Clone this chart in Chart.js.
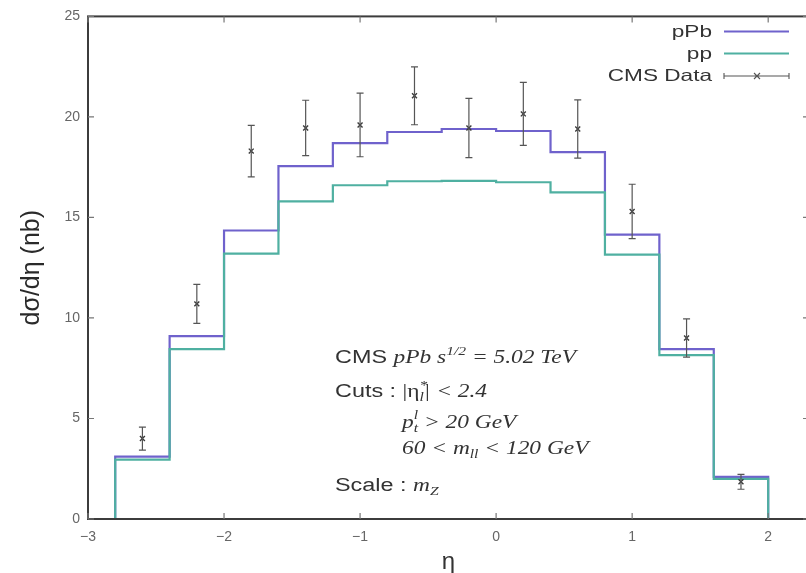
<!DOCTYPE html>
<html><head><meta charset="utf-8">
<script src="https://cdn.jsdelivr.net/npm/chart.js@4/dist/chart.umd.min.js"></script>
<style>
html,body{margin:0;padding:0;background:#fff;overflow:hidden;width:806px;height:573px}
#wrap{width:830px;height:573px;position:relative}
canvas{display:block}
</style></head>
<body><div id="wrap"><canvas id="c" width="830" height="573"></canvas></div>
<script>
// ---- data ----
const binEdges   = [-2.8,-2.4,-2.0,-1.6,-1.2,-0.8,-0.4,0.0,0.4,0.8,1.2,1.6,2.0];
const pPbValues  = [3.1,9.1,14.35,17.55,18.7,19.25,19.4,19.3,18.25,14.15,8.45,2.1];
const ppValues   = [2.95,8.45,13.2,15.8,16.6,16.8,16.82,16.75,16.25,13.15,8.15,2.0];
const dataEta    = [-2.6,-2.2,-1.8,-1.4,-1.0,-0.6,-0.2,0.2,0.6,1.0,1.4,1.8];
const dataValues = [4.0,10.7,18.3,19.45,19.6,21.05,19.45,20.15,19.4,15.3,9.0,1.85];
const dataErrors = [0.57,0.97,1.28,1.38,1.58,1.44,1.47,1.57,1.45,1.35,0.95,0.37];
const xTicks      = [-3,-2,-1,0,1,2];
const xTickLabels = ['−3','−2','−1','0','1','2'];
const yTicks      = [0,5,10,15,20,25];
const seriesNames = ['pPb','pp','CMS Data'];
const xTitle = 'η';
const yTitle = 'dσ/dη (nb)';

const colPPb = '#6f62cc';
const colPP  = '#4fb0a1';
const colData = '#3a3a3a';
const textCol = '#333';

function stepPoints(edges, vals){
  const pts=[{x:edges[0],y:0}];
  vals.forEach((v,i)=>pts.push({x:edges[i],y:v}));
  pts.push({x:edges[edges.length-1],y:vals[vals.length-1]});
  pts.push({x:edges[edges.length-1],y:0});
  return pts;
}

function drawRich(ctx,x,y,segs,sx){
  ctx.save(); ctx.translate(x,y); ctx.scale(sx,1);
  ctx.textBaseline='alphabetic'; ctx.textAlign='left';
  let cx=0;
  for(const s of segs){
    ctx.font=s.f;
    ctx.fillText(s.t,cx,s.dy||0);
    if(!s.stack) cx+=ctx.measureText(s.t).width;
  }
  ctx.restore();
}

const SANS='18px "Liberation Sans", Arial, sans-serif';
const SI='italic 18px "Liberation Serif", "Times New Roman", serif';
const SR='18px "Liberation Serif", "Times New Roman", serif';
const SM='italic 12px "Liberation Serif", "Times New Roman", serif';
const annotation = [
  {x:335,y:363,segs:[{t:'CMS ',f:SANS},{t:'pPb s',f:SI},{t:'1/2',f:SM,dy:-8},{t:' = 5.02 TeV',f:SI}]},
  {x:335,y:397,segs:[{t:'Cuts : ',f:SANS},{t:'|η',f:SR},{t:'*',f:SM,dy:-8,stack:true},{t:'l',f:SM,dy:4},{t:'| < 2.4',f:SI}]},
  {x:402,y:428,segs:[{t:'p',f:SI},{t:'l',f:SM,dy:-9,stack:true},{t:'t',f:SM,dy:4},{t:' > 20 GeV',f:SI}]},
  {x:402,y:454,segs:[{t:'60 < m',f:SI},{t:'ll',f:SM,dy:4},{t:' < 120 GeV',f:SI}]},
  {x:335,y:491,segs:[{t:'Scale : ',f:SANS},{t:'m',f:SI},{t:'Z',f:SM,dy:4}]}
];

const framePlugin = {
  id:'frame',
  afterDatasetsDraw(chart){
    const ctx=chart.ctx, a=chart.chartArea, xs=chart.scales.x, ys=chart.scales.y;
    // error bars
    ctx.save();
    ctx.strokeStyle='#555'; ctx.lineWidth=1.2;
    dataEta.forEach((e,i)=>{
      const px=xs.getPixelForValue(e);
      const y1=ys.getPixelForValue(dataValues[i]-dataErrors[i]);
      const y2=ys.getPixelForValue(dataValues[i]+dataErrors[i]);
      ctx.beginPath();
      ctx.moveTo(px,y1); ctx.lineTo(px,y2);
      ctx.moveTo(px-3.5,y1); ctx.lineTo(px+3.5,y1);
      ctx.moveTo(px-3.5,y2); ctx.lineTo(px+3.5,y2);
      ctx.stroke();
    });
    ctx.restore();
    // frame
    ctx.save();
    ctx.strokeStyle='#3c3c3c'; ctx.lineWidth=2;
    ctx.strokeRect(a.left,a.top,a.right-a.left,a.bottom-a.top);
    ctx.lineWidth=1.2; ctx.strokeStyle='#777';
    ctx.beginPath();
    xTicks.forEach(t=>{const px=xs.getPixelForValue(t);
      ctx.moveTo(px,a.bottom); ctx.lineTo(px,a.bottom-6);
      ctx.moveTo(px,a.top); ctx.lineTo(px,a.top+6);});
    yTicks.forEach(t=>{const py=ys.getPixelForValue(t);
      ctx.moveTo(a.left,py); ctx.lineTo(a.left+6,py);
      ctx.moveTo(a.right,py); ctx.lineTo(a.right-6,py);});
    ctx.stroke();
    ctx.restore();
    // legend
    ctx.save();
    const LF='16.5px "Liberation Sans", Arial, sans-serif', lsx=1.37;
    ctx.font=LF; ctx.fillStyle=textCol;
    const rows=[{y:37,ly:31.5,c:colPPb},{y:59,ly:53.5,c:colPP},{y:81,ly:76,c:'#555'}];
    rows.forEach((r,i)=>{
      const w=ctx.measureText(seriesNames[i]).width*lsx;
      ctx.save(); ctx.translate(712-w,r.y); ctx.scale(lsx,1); ctx.fillText(seriesNames[i],0,0); ctx.restore();
      ctx.beginPath();
      if(i<2){ctx.strokeStyle=r.c; ctx.lineWidth=2.2; ctx.moveTo(724,r.ly); ctx.lineTo(789,r.ly); ctx.stroke();}
      else{
        ctx.strokeStyle='#555'; ctx.lineWidth=1.1;
        ctx.moveTo(724,r.ly); ctx.lineTo(789,r.ly);
        ctx.moveTo(724,r.ly-3); ctx.lineTo(724,r.ly+3);
        ctx.moveTo(789,r.ly-3); ctx.lineTo(789,r.ly+3);
        ctx.moveTo(754,r.ly-3); ctx.lineTo(760,r.ly+3);
        ctx.moveTo(754,r.ly+3); ctx.lineTo(760,r.ly-3);
        ctx.stroke();
      }
    });
    // annotation
    ctx.fillStyle=textCol;
    annotation.forEach(l=>drawRich(ctx,l.x,l.y,l.segs,1.3));
    ctx.restore();
  }
};

new Chart(document.getElementById('c'),{
  type:'line',
  data:{datasets:[
    {label:seriesNames[0],data:stepPoints(binEdges,pPbValues),stepped:'before',borderColor:colPPb,borderWidth:2.2,pointRadius:0,fill:false,order:2},
    {label:seriesNames[1],data:stepPoints(binEdges,ppValues),stepped:'before',borderColor:colPP,borderWidth:2.2,pointRadius:0,fill:false,order:1},
    {label:seriesNames[2],data:dataEta.map((e,i)=>({x:e,y:dataValues[i]})),showLine:false,pointStyle:'crossRot',pointRadius:3.5,borderColor:colData,borderWidth:1.4,backgroundColor:colData,order:0}
  ]},
  options:{
    responsive:false,animation:false,
    layout:{padding:{left:0,top:13,right:21,bottom:0}},
    plugins:{legend:{display:false},tooltip:{enabled:false}},
    scales:{
      x:{type:'linear',min:-3,max:2.3,
        afterBuildTicks:s=>{s.ticks=xTicks.map(v=>({value:v}));},
        afterFit:s=>{s.height=54;},
        grid:{display:false,drawTicks:false},border:{display:false},
        ticks:{padding:10,color:'#666',font:{size:14,family:'"Liberation Sans", Arial'},maxRotation:0,autoSkip:false,
          callback:(v)=>{const i=xTicks.indexOf(v);return i>=0?xTickLabels[i]:'';}},
        title:{display:true,text:xTitle,color:textCol,font:{size:24,family:'"Liberation Sans", Arial',lineHeight:0.9},padding:{top:0,bottom:0}}
      },
      y:{type:'linear',min:0,max:25,
        afterBuildTicks:s=>{s.ticks=yTicks.map(v=>({value:v}));},
        afterFit:s=>{s.width=88;},
        grid:{display:false,drawTicks:false},border:{display:false},
        ticks:{padding:8,color:'#666',font:{size:14,family:'"Liberation Sans", Arial'},autoSkip:false},
        title:{display:true,text:yTitle,color:'#2a2a2a',font:{size:25,family:'"Liberation Sans", Arial',lineHeight:1.2},padding:{top:17,bottom:0}}
      }
    }
  },
  plugins:[framePlugin]
});
</script>
</body></html>
